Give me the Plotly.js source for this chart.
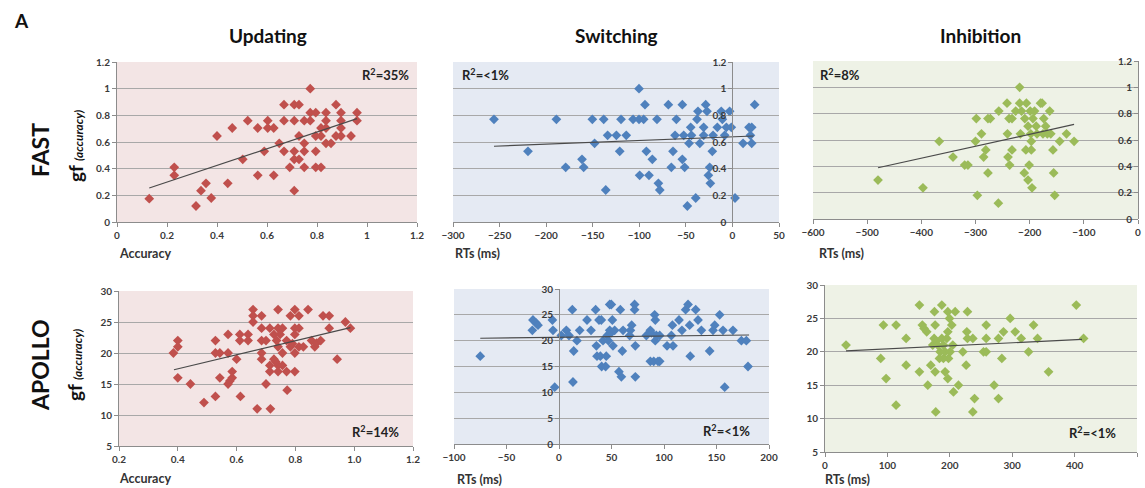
<!DOCTYPE html>
<html><head><meta charset="utf-8">
<script src="https://cdn.plot.ly/plotly-3.0.1.min.js"></script>
<style>html,body{margin:0;padding:0;background:#fff}#chart{width:1145px;height:488px}</style>
</head><body><div id="chart"></div>
<script>
const W = 1145, H = 488;
const FONT = 'Lato, "Open Sans", "Liberation Sans", sans-serif';

// ---- FAST / Updating (Accuracy vs gf) ----
const fastUpdX = [0.129,0.229,0.229,0.316,0.336,0.356,0.377,0.40,0.443,0.461,
 0.503,0.523,0.563,0.563,0.589,0.603,0.603,0.627,0.627,0.649,
 0.668,0.668,0.668,0.691,0.709,0.709,0.709,0.709,0.709,0.728,
 0.728,0.728,0.749,0.749,0.749,0.749,0.773,0.773,0.773,0.795,
 0.795,0.795,0.795,0.816,0.816,0.816,0.836,0.836,0.836,0.836,
 0.856,0.876,0.876,0.896,0.896,0.896,0.896,0.936,0.96,0.96];
const fastUpdY = [0.175,0.41,0.35,0.12,0.235,0.29,0.18,0.645,0.29,0.705,
 0.47,0.76,0.705,0.35,0.53,0.76,0.705,0.705,0.35,0.59,
 0.88,0.76,0.53,0.41,0.88,0.76,0.53,0.47,0.235,0.88,
 0.645,0.47,0.76,0.59,0.53,0.41,1.0,0.82,0.76,0.82,
 0.645,0.53,0.41,0.705,0.645,0.41,0.82,0.76,0.705,0.59,
 0.59,0.88,0.645,0.82,0.76,0.705,0.645,0.645,0.82,0.76];
const fastUpdTrendX = [0.129,0.96], fastUpdTrendY = [0.255,0.775];

// ---- FAST / Switching (RTs vs gf) ----
const fastSwX = [-256,-219.5,-189,-179,-161.5,-159.7,-150.4,-148,-138.2,-136,
 -134,-124.6,-121,-119.6,-114,-106.7,-100.3,-100.3,-99.6,-95.3,
 -93.9,-92.4,-89.6,-86,-81,-79.5,-78,-68.8,-65.6,-63.8,
 -61.6,-60.2,-53.8,-53.8,-52.3,-51.3,-48.4,-46.6,-44.8,-44,
 -39.4,-38,-37,-35,-30.9,-30.9,-28.7,-27.3,-25.8,-24.4,
 -23.7,-21.6,-20.8,-16.2,-12,-10.8,-8.3,-6.5,-3,-1.2,
 2.8,11.4,17.8,19.3,20.7,23.9,20.7];
const fastSwY = [0.77,0.53,0.77,0.41,0.47,0.41,0.77,0.59,0.77,0.24,
 0.65,0.65,0.53,0.77,0.65,0.77,1.0,0.77,0.35,0.77,
 0.88,0.53,0.35,0.47,0.77,0.29,0.24,0.88,0.41,0.53,
 0.65,0.77,0.88,0.47,0.65,0.41,0.12,0.59,0.71,0.65,
 0.18,0.77,0.83,0.59,0.71,0.65,0.88,0.83,0.35,0.41,
 0.29,0.53,0.65,0.71,0.83,0.77,0.65,0.71,0.83,0.71,
 0.18,0.59,0.71,0.65,0.59,0.88,0.71];
const fastSwTrendX = [-256,22.8], fastSwTrendY = [0.568,0.645];

// ---- FAST / Inhibition ----
const fastInhX = [-480,-397,-367,-341.5,-320,-314,-300,-298.5,-296.6,-289,
 -285,-281,-277,-277,-272.6,-257.8,-257,-241.8,-241,-240,
 -238,-237,-232.6,-232.6,-225.8,-218.5,-218.5,-217,-215,-210,
 -209,-207,-206,-203,-203,-201,-199,-198,-197,-197,
 -195.7,-194,-191,-188,-186.5,-180,-177,-175.4,-174,-170.5,
 -167.4,-163,-161,-157,-155.7,-153.8,-144.6,-132,-118];
const fastInhY = [0.296,0.237,0.59,0.47,0.41,0.41,0.59,0.763,0.18,0.647,
 0.47,0.525,0.35,0.763,0.763,0.12,0.82,0.88,0.647,0.47,
 0.763,0.41,0.525,0.763,0.82,1.0,0.88,0.647,0.82,0.35,
 0.763,0.525,0.88,0.296,0.705,0.41,0.82,0.647,0.59,0.525,
 0.237,0.763,0.82,0.705,0.647,0.88,0.88,0.647,0.763,0.705,
 0.647,0.82,0.647,0.525,0.35,0.18,0.59,0.647,0.59];
const fastInhTrendX = [-480,-118], fastInhTrendY = [0.389,0.718];

// ---- APOLLO / Updating ----
const apoUpdX = [0.385,0.40,0.40,0.40,0.443,0.489,0.528,0.528,0.528,0.543,
 0.543,0.571,0.571,0.571,0.577,0.585,0.585,0.60,0.611,0.611,
 0.613,0.639,0.639,0.656,0.656,0.656,0.67,0.685,0.685,0.685,
 0.685,0.685,0.70,0.70,0.713,0.713,0.713,0.715,0.727,0.727,
 0.736,0.741,0.741,0.741,0.741,0.741,0.756,0.756,0.756,0.77,
 0.77,0.772,0.783,0.783,0.798,0.798,0.798,0.798,0.798,0.812,
 0.812,0.812,0.827,0.843,0.855,0.866,0.872,0.886,0.894,0.915,
 0.915,0.942,0.97,0.987,0.733,0.748,0.79];
const apoUpdY = [20,22,21,16,15,12,22,20,13,20,
 16,23,20,15,15.5,16,17,19,23,22,
 13,23,22,27,26,25,11,26,24,22,
 20,19,22,15,24,18,17,11,23,19,
 22,24,27,21,18,17,24,20,18,22,
 17,14,26,21,27,24,23,20,17,26,
 24,21,21,27,22,21,21.6,22,26,26,
 24,19,25,24,18.6,23,21.5];
const apoUpdTrendX = [0.387,0.987], apoUpdTrendY = [17.3,24.1];

// ---- APOLLO / Switching ----
const apoSwX = [-75,-25.4,-24.8,-22.2,-20,-6.3,-5.7,-4.1,2.2,7,
 9.5,12.7,13.3,14,17.1,19.7,26.7,30.5,34.9,35.6,
 36.2,38.1,39.4,40.3,40.6,41.9,44.4,45,46,47,
 48.3,48.3,49.8,49.5,50.8,51.4,53,57.1,58.4,59.4,
 60.3,61,68,69.2,67.3,72,72,72.7,72.7,83.2,
 87,87,88,90.2,91.1,91.7,91.7,92.7,94.3,95.9,
 95.9,102.9,107,108,108.6,114.3,117.1,120.6,122.9,124.4,
 125,130.2,132.4,135.6,143.5,146.7,148.3,153,156.2,157.8,
 165.7,173.7,178.4,180];
const apoSwY = [17,22,24,23.5,23,24,22,11,21,22,
 21,26,12,18,20,22,24,22,26,19,
 17,24,17,24,15,20,15,17,21,20,
 22,27,27,21.5,24,19,22,14,26,13,
 18,22,22,23,21,27,26,19,13,21,
 22,16,21.5,16,25,24,20,21,16,16,
 21,19,21,23,19,24,22,26,27,23,
 17,26,24,22,18,22,23,25,22,11,
 22,20,20,15];
const apoSwTrendX = [-75,181], apoSwTrendY = [20.47,21.1];

// ---- APOLLO / Inhibition ----
const apoInhX = [33.7,89.3,93.6,97.9,113.9,113.9,130,130,151.3,151.3,
 156,158.8,163,164.7,169.5,175.4,176.5,176.5,177.5,174.9,
 172.7,178,180.7,184.5,187.2,183.4,187.2,189.8,189.8,192.5,
 192.5,195.2,196.8,196.8,196.8,197.9,199.5,200.5,203.2,204.8,
 205.9,208.6,213.9,220.9,226.2,227.3,228.3,228.3,236.9,236.9,
 239.6,254,258.3,258.3,258.3,271,278,278,283.4,286,
 296.8,304.8,314.4,326.2,334.2,340.6,358.3,402.7,414.4];
const apoInhY = [21,19,24,16,24,12,22,18,27,17,
 24,23.5,23,15,18,26,24,17,11,22,
 21,21.6,21,20,27,19,22,21,19,20,
 17,22,26,23,16,19,25,20,24,21,
 14,26,15,20,18,23,26,22,22,11,
 13,20,20,24,22,15,22,13,19,23,
 25,23,22,20,24,22,17,27,22];
const apoInhTrendX = [33.7,411.8], apoInhTrendY = [20.15,21.85];

// ---- labels ----
const columnTitles = ['Updating','Switching','Inhibition'];
const rowTitles = ['FAST','APOLLO'];
const r2Labels = ['R<sup>2</sup>=35%','R<sup>2</sup>=<1%','R<sup>2</sup>=8%','R<sup>2</sup>=14%','R<sup>2</sup>=<1%','R<sup>2</sup>=<1%'];
const xTitles = ['Accuracy','RTs (ms)','RTs (ms)','Accuracy','RTs (ms)','RTs (ms)'];

const RED='#c0504d', BLUE='#4f81bd', GREEN='#9bbb59';
const BG_R='#f3e5e5', BG_B='#e5eaf3', BG_G='#eef2e6';

// panel layout (pixel boxes) and axis setup
const panels = [
 {x:fastUpdX,y:fastUpdY,tx:fastUpdTrendX,ty:fastUpdTrendY,box:[117,62,417,222],xr:[0,1.2],xd:0.2,yr:[0,1.2],yd:0.2,bg:BG_R,c:RED,cross:null,xf:''},
 {x:fastSwX,y:fastSwY,tx:fastSwTrendX,ty:fastSwTrendY,box:[453,62,779,222],xr:[-300,50],xd:50,yr:[0,1.2],yd:0.2,bg:BG_B,c:BLUE,cross:0,xf:''},
 {x:fastInhX,y:fastInhY,tx:fastInhTrendX,ty:fastInhTrendY,box:[813,61,1138,219],xr:[-600,0],xd:100,yr:[0,1.2],yd:0.2,bg:BG_G,c:GREEN,cross:0,xf:''},
 {x:apoUpdX,y:apoUpdY,tx:apoUpdTrendX,ty:apoUpdTrendY,box:[119,291,413,446],xr:[0.2,1.2],xd:0.2,yr:[5,30],yd:5,bg:BG_R,c:RED,cross:null,xf:'.1f'},
 {x:apoSwX,y:apoSwY,tx:apoSwTrendX,ty:apoSwTrendY,box:[454,289,769,444],xr:[-100,200],xd:50,yr:[0,30],yd:5,bg:BG_B,c:BLUE,cross:0,xf:''},
 {x:apoInhX,y:apoInhY,tx:apoInhTrendX,ty:apoInhTrendY,box:[825,285,1137,452],xr:[0,500],xd:100,yr:[5,30],yd:5,bg:BG_G,c:GREEN,cross:null,xf:''}
];

const tickFont = {family:FONT,size:10,color:'#3a3a3a',weight:'bold'};
const AX='#8c8c8c';
const traces=[], shapes=[];
const layout = {
  width:W, height:H, margin:{l:0,r:0,t:0,b:0},
  paper_bgcolor:'#fff', plot_bgcolor:'rgba(0,0,0,0)', showlegend:false,
  font:{family:FONT}, annotations:[], shapes:shapes
};

panels.forEach((p,i)=>{
  const n = i===0 ? '' : String(i+1);
  const [x0,y0,x1,y1] = p.box;
  const xd=[x0/W,x1/W], yd=[1-y1/H,1-y0/H];
  traces.push({type:'scatter',mode:'markers',x:p.x,y:p.y,xaxis:'x'+n,yaxis:'y'+n,
    marker:{symbol:'diamond',size:7.5,color:p.c,line:{width:0}},hoverinfo:'skip'});
  traces.push({type:'scatter',mode:'lines',x:p.tx,y:p.ty,xaxis:'x'+n,yaxis:'y'+n,
    line:{color:'#4a4a4a',width:1.2},hoverinfo:'skip'});
  layout['xaxis'+n] = {domain:xd,range:p.xr,dtick:p.xd,tick0:p.xr[0],anchor:'y'+n,
    showgrid:false,zeroline:false,showline:true,linecolor:AX,linewidth:1,
    ticks:'outside',ticklen:4,tickcolor:AX,tickfont:tickFont,tickformat:p.xf,fixedrange:true};
  const ya = {domain:yd,range:p.yr,dtick:p.yd,tick0:p.yr[0],
    showgrid:true,gridcolor:'#a8a8a8',gridwidth:1,zeroline:false,showline:true,linecolor:AX,linewidth:1,
    ticks:'outside',ticklen:4,tickcolor:AX,tickfont:tickFont,side:'left',fixedrange:true};
  if(p.cross===null){ ya.anchor='x'+n; }
  else {
    ya.anchor='free';
    ya.position = (x0 + (p.cross-p.xr[0])/(p.xr[1]-p.xr[0])*(x1-x0))/W;
  }
  layout['yaxis'+n]=ya;
  shapes.push({type:'rect',xref:'x'+n+' domain',yref:'y'+n+' domain',x0:0,x1:1,y0:0,y1:1,
    fillcolor:p.bg,line:{width:0},layer:'below'});
});

function ann(text,px,py,opt){
  return Object.assign({text:text,x:px/W,y:1-py/H,xref:'paper',yref:'paper',showarrow:false,
    xanchor:'center',yanchor:'middle',font:{family:FONT,size:12,color:'#222',weight:'bold'}},opt||{});
}
const A = layout.annotations;
A.push(ann('A',12,20,{xanchor:'left',font:{family:FONT,size:19,color:'#111',weight:'bold'}}));
[[268,36],[617,36],[980,36]].forEach((c,i)=>A.push(ann(columnTitles[i],c[0],c[1],{font:{family:FONT,size:19,color:'#111',weight:'bold'}})));
[[40,150],[40,365]].forEach((c,i)=>A.push(ann(rowTitles[i],c[0],c[1],{textangle:-90,font:{family:FONT,size:23,color:'#111',weight:'bold'}})));
[[75,146],[74,365]].forEach(c=>A.push(ann('gf <i><span style="font-size:12px;font-weight:bold">(accuracy)</span></i>',c[0],c[1],{textangle:-90,font:{family:FONT,size:19,color:'#111',weight:'bold'}})));
const r2pos = [[411,75,'right'],[460,75,'left'],[818,75,'left'],[401,431,'right'],[752,430,'right'],[1118,432,'right']];
r2pos.forEach((c,i)=>A.push(ann(r2Labels[i],c[0],c[1],{xanchor:c[2],font:{family:FONT,size:13,color:'#222',weight:'bold'}})));
const xtpos = [[117,254],[453,254],[817,254],[117,478],[455,479],[823,479]];
xtpos.forEach((c,i)=>A.push(ann(xTitles[i],c[0],c[1],{xanchor:'left',font:{family:FONT,size:12.5,color:'#333',weight:'bold'}})));

Plotly.newPlot('chart',traces,layout,{staticPlot:true,displayModeBar:false});
</script></body></html>
